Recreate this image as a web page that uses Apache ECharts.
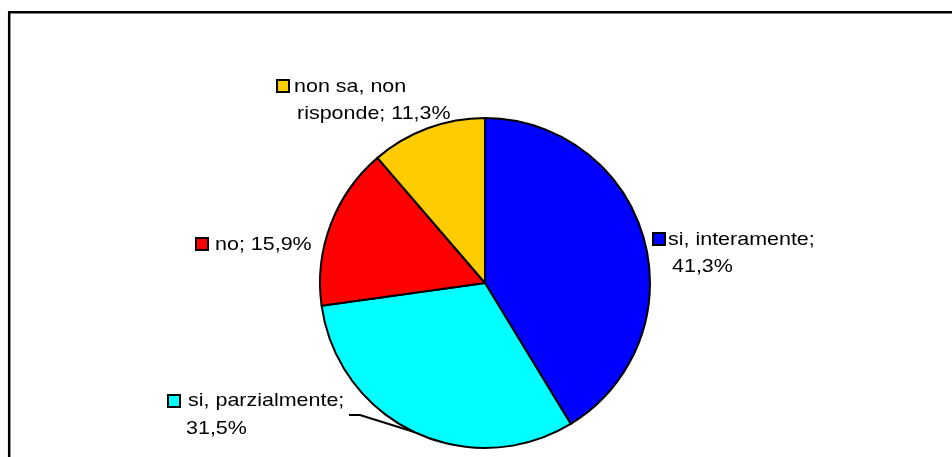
<!DOCTYPE html>
<html>
<head>
<meta charset="utf-8">
<script src="https://cdn.jsdelivr.net/npm/echarts@6/dist/echarts.min.js"></script>
<style>html,body{margin:0;padding:0;background:#fff;}#c{width:952px;height:457px;}</style>
</head>
<body>
<div id="c"></div>
<script>
// ---- data ----
const categories = ['si, interamente', 'si, parzialmente', 'no', 'non sa, non risponde'];
const values = [41.3, 31.5, 15.9, 11.3];
const colors = ['#0000FF', '#00FFFF', '#FF0000', '#FFCC00'];

// ---- layout (label placement) ----
const PIE_CENTER = [485, 283];
const PIE_RADIUS = 165;
const labelLayout = [
  { split: 16, sq: [653, 233], l1: [668, 240], l2: [672, 267] },
  { split: 17, sq: [168, 395], l1: [188, 401], l2: [186, 429] },
  { split: 0,  sq: [196, 238], l1: [215, 245], l2: null },
  { split: 11, sq: [277, 80],  l1: [294, 87],  l2: [297, 114] }
];
const leaderFrom = [[349, 415], [360, 415]]; // for 'si, parzialmente'

const fmt = v => v.toFixed(1).replace('.', ',') + '%';
const chart = echarts.init(document.getElementById('c'), null, { renderer: 'canvas' });

const graphics = [];
graphics.push({
  type: 'rect', z: 100,
  shape: { x: 9.2, y: 12.2, width: 2000, height: 2000 },
  style: { fill: 'none', stroke: '#000', lineWidth: 2.5 }
});
const font = '19px "Liberation Sans", Arial, sans-serif';
const SX = 1.13;
categories.forEach((name, i) => {
  const L = labelLayout[i];
  const full = name + '; ' + fmt(values[i]);
  let line1 = full, line2 = null;
  if (L.split > 0) { line1 = full.slice(0, L.split); line2 = full.slice(L.split).trim(); }
  graphics.push({
    type: 'rect', z: 100,
    shape: { x: L.sq[0], y: L.sq[1], width: 12, height: 12 },
    style: { fill: colors[i], stroke: '#000', lineWidth: 2 }
  });
  graphics.push({
    type: 'text', z: 100, x: L.l1[0], y: L.l1[1], scaleX: SX,
    style: { text: line1, font: font, fill: '#000', align: 'left', verticalAlign: 'middle' }
  });
  if (line2) {
    graphics.push({
      type: 'text', z: 100, x: L.l2[0], y: L.l2[1], scaleX: SX,
      style: { text: line2, font: font, fill: '#000', align: 'left', verticalAlign: 'middle' }
    });
  }
});
// leader line for 'si, parzialmente' ending at slice mid-angle on the edge
(function () {
  const total = values.reduce((a, b) => a + b, 0);
  const mid = (values[0] + values[1] / 2) / total * 2 * Math.PI;
  const ex = PIE_CENTER[0] + PIE_RADIUS * Math.sin(mid);
  const ey = PIE_CENTER[1] - PIE_RADIUS * Math.cos(mid);
  graphics.push({
    type: 'polyline', z: 100,
    shape: { points: leaderFrom.concat([[ex, ey]]) },
    style: { stroke: '#000', lineWidth: 2, fill: null }
  });
})();

chart.setOption({
  animation: false,
  backgroundColor: '#ffffff',
  graphic: graphics,
  series: [{
    type: 'pie',
    center: PIE_CENTER,
    radius: PIE_RADIUS,
    startAngle: 90,
    clockwise: true,
    label: { show: false },
    labelLine: { show: false },
    emphasis: { disabled: true },
    itemStyle: { borderColor: '#000', borderWidth: 2 },
    data: categories.map((n, i) => ({ name: n, value: values[i], itemStyle: { color: colors[i] } }))
  }]
});
</script>
</body>
</html>
